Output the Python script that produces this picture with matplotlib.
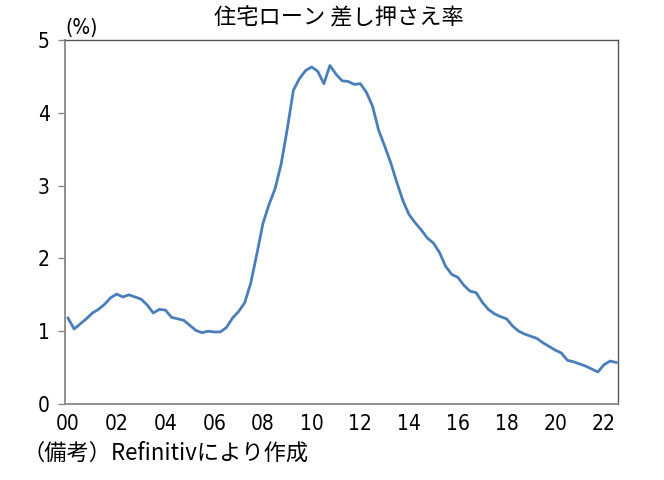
import matplotlib
matplotlib.use("Agg")
import matplotlib.pyplot as plt
import numpy as np

# quarterly foreclosure rate (%), 2000Q1 - 2022Q3
rate = [1.18, 1.03, 1.10, 1.17, 1.25, 1.30, 1.37, 1.46,
        1.51, 1.47, 1.50, 1.47, 1.44, 1.36, 1.25, 1.30,
        1.29, 1.19, 1.17, 1.15, 1.08, 1.01, 0.98, 1.00,
        0.99, 0.99, 1.05, 1.18, 1.27, 1.39, 1.66, 2.06,
        2.48, 2.74, 2.96, 3.30, 3.78, 4.31, 4.47, 4.58,
        4.63, 4.57, 4.40, 4.65, 4.53, 4.44, 4.43, 4.39,
        4.40, 4.28, 4.09, 3.76, 3.54, 3.31, 3.04, 2.79,
        2.60, 2.49, 2.39, 2.28, 2.21, 2.08, 1.89, 1.78,
        1.74, 1.63, 1.55, 1.53, 1.40, 1.30, 1.24, 1.20,
        1.17, 1.07, 1.00, 0.96, 0.93, 0.90, 0.84, 0.79,
        0.74, 0.70, 0.60, 0.58, 0.55, 0.52, 0.48, 0.44,
        0.54, 0.59, 0.57]
year_labels = ["00", "02", "04", "06", "08", "10", "12", "14", "16", "18", "20", "22"]
yticks = [0, 1, 2, 3, 4, 5]

num_font = ["DejaVu Sans", "Noto Sans CJK JP"]
jp_font = ["Noto Sans CJK JP", "DejaVu Sans"]

fig = plt.figure(figsize=(6.64, 4.8), dpi=100)
ax = fig.add_axes([65 / 664, 1 - 404 / 480, (618 - 65) / 664, (404 - 40) / 480])

x = np.arange(len(rate))
ax.plot(x, rate, color="#4a7ebb", lw=2.0)

ax.set_xlim(-0.5, 90.3)
ax.set_ylim(0, 5)
ax.set_yticks(yticks)
ax.set_yticklabels([str(v) for v in yticks], family=num_font, fontsize=15,
                   fontstretch="condensed")
ax.set_xticks(np.arange(0, 8 * len(year_labels), 8))
ax.set_xticklabels(year_labels, family=num_font, fontsize=15, fontstretch="condensed")
ax.tick_params(axis="x", length=0, pad=7)
ax.tick_params(axis="y", length=5, width=1, color="#888888", direction="out", pad=6)

for s in ["left", "bottom"]:
    ax.spines[s].set_color("#888888")
    ax.spines[s].set_linewidth(1.3)
for s in ["top", "right"]:
    ax.spines[s].set_color("#555555")
    ax.spines[s].set_linewidth(1.0)

fig.text(0.51, 0.962, "住宅ローン 差し押さえ率", ha="center", va="center",
         family=jp_font, fontsize=16)
ax.text(0.0, 1.005, "(%)", transform=ax.transAxes, ha="left", va="bottom",
        family=num_font, fontsize=15, fontstretch="condensed")
fig.text(22 / 664, 1 - 453 / 480, "（備考）Refinitivにより作成", ha="left", va="center",
         family=jp_font, fontsize=16)

fig.savefig("out.png", dpi=100)
